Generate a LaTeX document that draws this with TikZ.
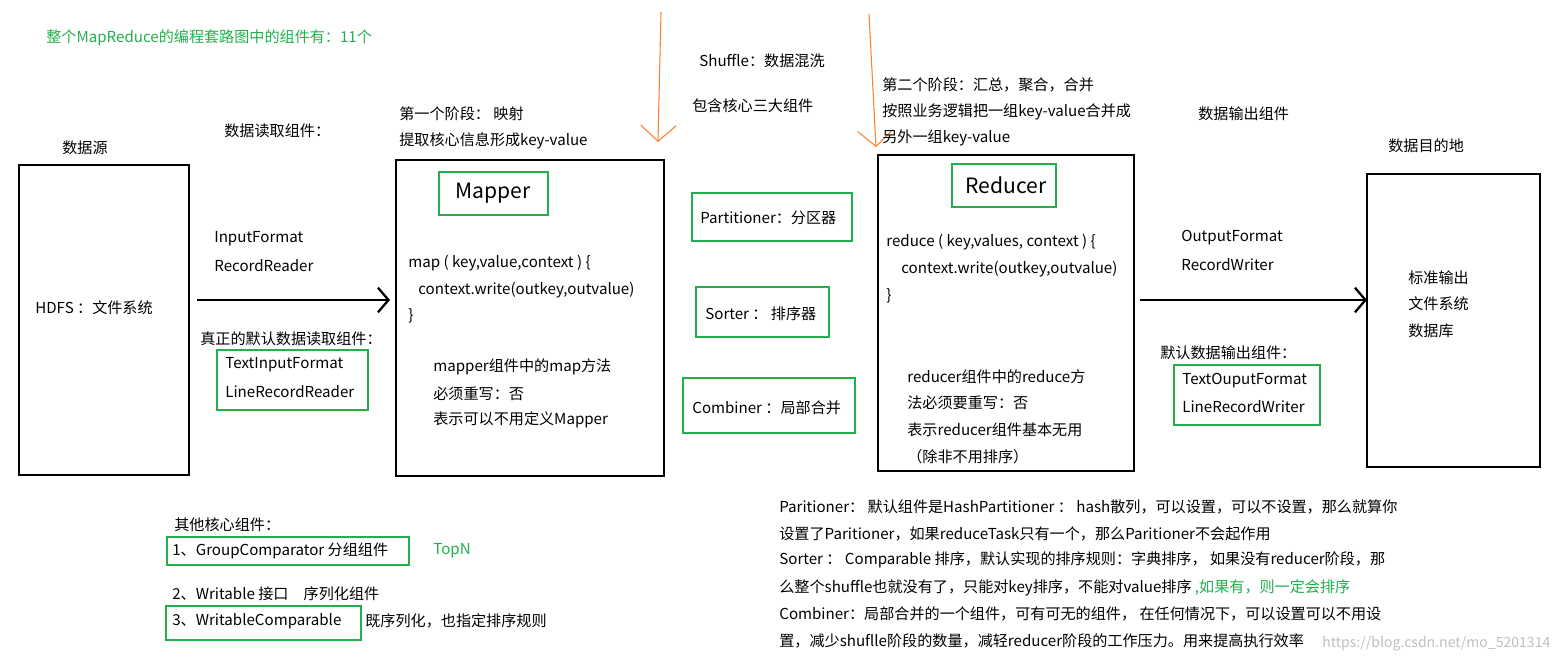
\documentclass[tikz,border=0pt]{standalone}
\usepackage{fontspec}
\setmainfont{Noto Sans CJK SC}
\usetikzlibrary{arrows, arrows.meta}
\definecolor{markgreen}{rgb}{0.13,0.69,0.30}
\definecolor{pen}{rgb}{1.0,0.50,0.15}

\begin{document}
\begin{tikzpicture}[x=0.02cm, y=-0.02cm, font=\fontsize{8.6}{10}\selectfont]
\tikzstyle{stage} = [draw=black, line width=1.6pt]
\tikzstyle{tag} = [draw=markgreen, line width=1.2pt]
\tikzstyle{txt} = [anchor=west, inner sep=0pt]
\tikzstyle{flow} = [-{Straight Barb[length=6pt,width=14pt]}, black, line width=1.3pt]
\tikzstyle{penline} = [-{Straight Barb[length=9pt,width=20pt,line width=0.6pt]}, pen, line width=0.6pt]

\useasboundingbox (0,0) rectangle (1565,665);

% stage boxes
\draw[stage] (19,165) rectangle (189,475);
\draw[stage] (396,160) rectangle (664,476);
\draw[stage] (878,155) rectangle (1134,471);
\draw[stage] (1367,174) rectangle (1540,467);

% green tags
\draw[tag] (439,172) rectangle (548,215);
\draw[tag] (952,164) rectangle (1056,207);
\draw[tag] (692,193) rectangle (852,241);
\draw[tag] (696,287) rectangle (829,337);
\draw[tag] (683,378) rectangle (855,433);
\draw[tag] (217,350) rectangle (368,410);
\draw[tag] (1174,365) rectangle (1320,425);
\draw[tag] (167,537) rectangle (409,565);
\draw[tag] (166,606) rectangle (361,640);

% connectors
\coordinate (inA) at (197,300);
\coordinate (inB) at (390,300);
\coordinate (outA) at (1140,300);
\coordinate (outB) at (1367,300);
\coordinate (mapTop) at (661,12);
\coordinate (mapEnd) at (658,142);
\coordinate (redTop) at (869,14);
\coordinate (redEnd) at (876,147);
\draw[flow] (inA) -- (inB);
\draw[flow] (outA) -- (outB);
\draw[penline] (mapTop) -- (mapEnd);
\draw[penline] (redTop) -- (redEnd);

% texts
\node[txt, markgreen] (title) at (46,38) {整个MapReduce的编程套路图中的组件有：11个};
\node[txt] (src) at (62,148) {数据源};
\node[txt] (rd) at (224,131) {数据读取组件：};
\node[txt] (st1) at (399,114) {第一个阶段： 映射};
\node[txt] (st1b) at (399,141) {提取核心信息形成key-value};
\node[txt] (sh) at (699,61) {Shuffle：数据混洗};
\node[txt] (sh2) at (692,106) {包含核心三大组件};
\node[txt] (st2) at (882,85) {第二个阶段：汇总，聚合，合并};
\node[txt] (st2b) at (882,112) {按照业务逻辑把一组key-value合并成};
\node[txt] (st2c) at (882,138) {另外一组key-value};
\node[txt] (wr) at (1198,114) {数据输出组件};
\node[txt] (dst) at (1388,146) {数据目的地};

\node[txt] (hdfs) at (35,308) {HDFS ：文件系统};
\node[txt] (if1) at (214,239) {InputFormat};
\node[txt] (if2) at (214,266) {RecordReader};
\node[txt] (dflt) at (200,339) {真正的默认数据读取组件：};
\node[txt] (tif) at (225,365) {TextInputFormat};
\node[txt] (lrr) at (225,392) {LineRecordReader};

\node[txt, font=\fontsize{12}{14}\selectfont] (mapper) at (455,193) {Mapper};
\node[txt] (m1) at (408,263) {map ( key,value,context ) \{};
\node[txt] (m2) at (418,290) {context.write(outkey,outvalue)};
\node[txt] (m3) at (408,316) {\}};
\node[txt] (m4) at (433,367) {mapper组件中的map方法};
\node[txt] (m5) at (433,394) {必须重写：否};
\node[txt] (m6) at (433,420) {表示可以不用定义Mapper};

\node[txt] (part) at (700,218) {Partitioner：分区器};
\node[txt] (sort) at (705,314) {Sorter ： 排序器};
\node[txt] (comb) at (692,408) {Combiner ：局部合并};

\node[txt, font=\fontsize{12}{14}\selectfont] (reducer) at (965,185) {Reducer};
\node[txt] (r1) at (886,242) {reduce ( key,values, context ) \{};
\node[txt] (r2) at (901,269) {context.write(outkey,outvalue)};
\node[txt] (r3) at (886,296) {\}};
\node[txt] (r4) at (907,377) {reducer组件中的reduce方};
\node[txt] (r5) at (907,403) {法必须要重写：否};
\node[txt] (r6) at (907,430) {表示reducer组件基本无用};
\node[txt] (r7) at (907,457) {（除非不用排序）};

\node[txt] (of1) at (1181,238) {OutputFormat};
\node[txt] (of2) at (1181,265) {RecordWriter};
\node[txt] (odf) at (1160,353) {默认数据输出组件：};
\node[txt] (tof) at (1182,381) {TextOuputFormat};
\node[txt] (lrw) at (1182,407) {LineRecordWriter};
\node[txt] (d1) at (1408,278) {标准输出};
\node[txt] (d2) at (1408,304) {文件系统};
\node[txt] (d3) at (1408,331) {数据库};

\node[txt] (oth) at (174,525) {其他核心组件：};
\node[txt] (g1) at (172,551) {1、GroupComparator 分组组件};
\node[txt, markgreen] (topn) at (433,551) {TopN};
\node[txt] (g2) at (172,594) {2、Writable 接口\quad 序列化组件};
\node[txt] (g3) at (172,621) {3、WritableComparable};
\node[txt] (g3b) at (365,621) {既序列化，也指定排序规则};

\node[txt] (p1) at (779,507) {Paritioner： 默认组件是HashPartitioner ： hash散列，可以设置，可以不设置，那么就算你};
\node[txt] (p2) at (779,534) {设置了Paritioner，如果reduceTask只有一个，那么Paritioner不会起作用};
\node[txt] (p3) at (779,560) {Sorter ： Comparable 排序，默认实现的排序规则：字典排序， 如果没有reducer阶段，那};
\node[txt] (p4) at (779,588) {么整个shuffle也就没有了，只能对key排序，不能对value排序 {\color{markgreen},如果有，则一定会排序}};
\node[txt] (p5) at (779,614) {Combiner：局部合并的一个组件，可有可无的组件， 在任何情况下，可以设置可以不用设};
\node[txt] (p6) at (779,641) {置，减少shuflle阶段的数量，减轻reducer阶段的工作压力。用来提高执行效率};
\node[txt, black!25, font=\fontsize{8}{9}\selectfont] (wm) at (1322,644) {https://blog.csdn.net/mo\_5201314};
\end{tikzpicture}
\end{document}
